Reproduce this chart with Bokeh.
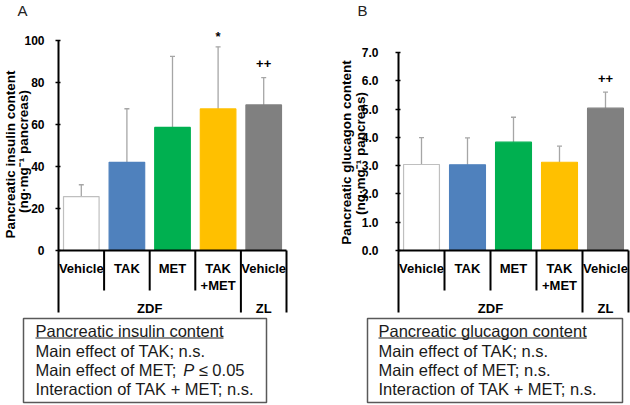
import math
from bokeh.plotting import figure
from bokeh.models import (LinearAxis, FixedTicker, NumeralTickFormatter, Range1d,
                          ColumnDataSource, Whisker, TeeHead)
from bokeh.layouts import row
from bokeh.embed import file_html
from bokeh.resources import INLINE
from bokeh.core.properties import value

# ---------------- data ----------------
groups = ["Vehicle", "TAK", "MET", "TAK\n+MET", "Vehicle"]
strain_of_group = ["ZDF", "ZDF", "ZDF", "ZDF", "ZL"]
bar_colors = ["#ffffff", "#4f81bd", "#00b050", "#ffc000", "#808080"]

insulin_mean = [25.7, 42.0, 58.6, 67.4, 69.3]
insulin_sd = [5.6, 25.5, 33.8, 29.6, 13.0]
insulin_sig = ["", "", "", "*", "++"]
insulin_ticks = [0, 20, 40, 60, 80, 100]
insulin_title = "Pancreatic insulin content"
insulin_ylabel = ["Pancreatic insulin content", "(ng·mg\u207b\u00b9 pancreas)"]
insulin_notes = ["Main effect of TAK; n.s.",
                 "Main effect of MET; P \u2264 0.05",
                 "Interaction of TAK + MET; n.s."]

glucagon_mean = [3.04, 3.03, 3.83, 3.12, 5.03]
glucagon_sd = [0.95, 0.95, 0.88, 0.57, 0.57]
glucagon_sig = ["", "", "", "", "++"]
glucagon_ticks = [0, 1, 2, 3, 4, 5, 6, 7]
glucagon_title = "Pancreatic glucagon content"
glucagon_ylabel = ["Pancreatic glucagon content", "(ng·mg\u207b\u00b9 pancreas)"]
glucagon_notes = ["Main effect of TAK; n.s.",
                  "Main effect of MET; n.s.",
                  "Interaction of TAK + MET; n.s."]

# ---------------- helpers ----------------
FONT = "Liberation Sans"
_W = {" ": 278, ";": 278, ".": 278, ",": 278, "+": 584, "M": 833, "E": 667, "T": 611,
      "P": 667, "A": 667, "K": 667, "I": 278, "a": 556, "i": 222, "n": 556, "e": 556,
      "f": 278, "c": 500, "t": 278, "o": 556, "r": 333, "s": 500, "u": 556, "l": 222,
      "g": 556}


def text_width(s, size):
    return sum(_W.get(ch, 556) for ch in s) * size / 1000.0


def make_panel(letter, mean, sd, sig, ticks, tick_fmt, ylabel, title, notes,
               ox, axis_px, cat_w, unit_px, tick_standoff, ylabel_px,
               box_l, box_r, text_l, sig_py, letter_px):
    W, H, oy, zero_px = 315, 405, 0, 250

    def X(px):
        return -0.5 + (px - axis_px) / cat_w

    def Y(py):
        return (zero_px - py) / unit_px

    p = figure(width=W, height=H, x_range=Range1d(X(ox), X(ox + W)),
               y_range=Range1d(Y(oy + H), Y(oy)), x_axis_type=None, y_axis_type=None,
               output_backend="svg", toolbar_location=None, min_border=0,
               outline_line_color=None, background_fill_color="white",
               border_fill_color="white")

    ax = LinearAxis(fixed_location=-0.5, bounds=(ticks[0], ticks[-1]),
                    ticker=FixedTicker(ticks=ticks))
    if tick_fmt:
        ax.formatter = NumeralTickFormatter(format=tick_fmt)
    ax.axis_line_width = 2
    ax.axis_line_color = "black"
    ax.major_tick_line_width = 1.5
    ax.major_tick_out = 3
    ax.major_tick_in = 2
    ax.minor_tick_line_color = None
    ax.major_label_text_font = FONT
    ax.major_label_text_font_style = "bold"
    ax.major_label_text_font_size = "12px"
    ax.major_label_text_color = "black"
    ax.major_label_standoff = tick_standoff
    p.add_layout(ax, "left")

    # y-axis title (two rotated lines)
    p.text(x=[X(px) for px, _ in ylabel_px], y=[Y(py) for _, py in ylabel_px],
           text=ylabel, angle=math.pi / 2, text_align="center", text_baseline="middle",
           text_font=value(FONT), text_font_style="bold", text_font_size="13.5px",
           text_color="black")

    idx = list(range(len(groups)))
    upper = [m + s for m, s in zip(mean, sd)]
    src = ColumnDataSource(dict(x=idx, top=mean, upper=upper, color=bar_colors,
                                line=["#bfbfbf" if c == "#ffffff" else c for c in bar_colors]))
    p.vbar(x="x", top="top", bottom=0, width=0.78, fill_color="color",
           line_color="line", line_width=1.2, source=src)
    p.add_layout(Whisker(base="x", lower="top", upper="upper", source=src,
                         dimension="height", line_color="#a6a6a6", line_width=1.3,
                         upper_head=TeeHead(size=5, line_color="#a6a6a6", line_width=1.3),
                         lower_head=None))

    # significance marks
    p.text(x=idx, y=[Y(v) for v in sig_py], text=sig, text_align="center",
           text_baseline="middle", text_font=value(FONT), text_font_style="bold",
           text_font_size="13px", text_color="black")

    # baseline of bars
    n = len(groups)
    p.segment(x0=[-0.5], y0=[0], x1=[n - 0.5], y1=[0], line_color="black", line_width=2)

    # separators
    bx, by = [], []
    for i in range(n + 1):
        outer = i == 0 or i == n or strain_of_group[i] != strain_of_group[i - 1]
        bx.append(i - 0.5)
        by.append(Y(312) if outer else Y(290))
    p.segment(x0=bx, y0=[0] * len(bx), x1=bx, y1=by, line_color="black", line_width=2)

    # group labels
    p.text(x=idx, y=[Y(260)] * n, text=groups, text_align="center", text_baseline="top",
           text_font=value(FONT), text_font_style="bold", text_font_size="13px",
           text_color="black", text_line_height=1.15)
    strains = []
    for s in strain_of_group:
        if s not in strains:
            strains.append(s)
    sx = [sum(i for i in idx if strain_of_group[i] == s) /
          sum(1 for i in idx if strain_of_group[i] == s) for s in strains]
    p.text(x=sx, y=[Y(308)] * len(strains), text=strains, text_align="center",
           text_baseline="middle", text_font=value(FONT), text_font_style="bold",
           text_font_size="13px", text_color="black")

    # panel letter
    p.text(x=[X(letter_px[0])], y=[Y(letter_px[1])], text=[letter],
           text_align="center", text_baseline="middle", text_font=value(FONT),
           text_font_size="15px", text_color="#222222")

    # statistics box
    p.quad(left=[X(box_l)], right=[X(box_r)], top=[Y(318)], bottom=[Y(402)],
           fill_color=None, line_color="#595959", line_width=1.5)
    fs = 16.5
    fsz = f"{fs}px"
    mid_py = [330.5, 350.5, 369.5, 388.5]
    p.text(x=[X(text_l)], y=[Y(mid_py[0])], text=[title], text_align="left",
           text_baseline="middle", text_font=value(FONT), text_font_size=fsz,
           text_color="#1a1a1a")
    tw = text_width(title, fs)
    p.segment(x0=[X(text_l)], y0=[Y(mid_py[0] + 7)], x1=[X(text_l + tw)],
              y1=[Y(mid_py[0] + 7)], line_color="#1a1a1a", line_width=1.2)
    for line, py in zip(notes, mid_py[1:]):
        if "; P " in line:
            pre, rest = line.split("; P ", 1)
            pre = pre + ";"
            x1 = text_l + text_width(pre + " ", fs)
            x2 = x1 + text_width("P ", fs)
            p.text(x=[X(text_l)], y=[Y(py)], text=[pre], text_align="left",
                   text_baseline="middle", text_font=value(FONT), text_font_size=fsz,
                   text_color="#1a1a1a")
            p.text(x=[X(x1)], y=[Y(py)], text=["P"], text_align="left",
                   text_baseline="middle", text_font=value(FONT), text_font_size=fsz,
                   text_font_style="italic", text_color="#1a1a1a")
            p.text(x=[X(x2)], y=[Y(py)], text=[rest], text_align="left",
                   text_baseline="middle", text_font=value(FONT), text_font_size=fsz,
                   text_color="#1a1a1a")
        else:
            p.text(x=[X(text_l)], y=[Y(py)], text=[line], text_align="left",
                   text_baseline="middle", text_font=value(FONT), text_font_size=fsz,
                   text_color="#1a1a1a")
    return p


pa = make_panel("A", insulin_mean, insulin_sd, insulin_sig, insulin_ticks, None,
                insulin_ylabel, insulin_title, insulin_notes,
                ox=0, axis_px=58, cat_w=45.6, unit_px=2.1, tick_standoff=11,
                ylabel_px=[(9.5, 154), (22.5, 151)], box_l=23, box_r=266, text_l=35,
                sig_py=[0, 0, 0, 36, 63], letter_px=(22, 10))
pb = make_panel("B", glucagon_mean, glucagon_sd, glucagon_sig, glucagon_ticks, "0.0",
                glucagon_ylabel, glucagon_title, glucagon_notes,
                ox=315, axis_px=398, cat_w=46, unit_px=198 / 7, tick_standoff=17,
                ylabel_px=[(346, 152), (359.5, 153)], box_l=367, box_r=622, text_l=378,
                sig_py=[0, 0, 0, 0, 78], letter_px=(362, 10))

layout = row(pa, pb)
open("out.html", "w").write(file_html(layout, INLINE))
